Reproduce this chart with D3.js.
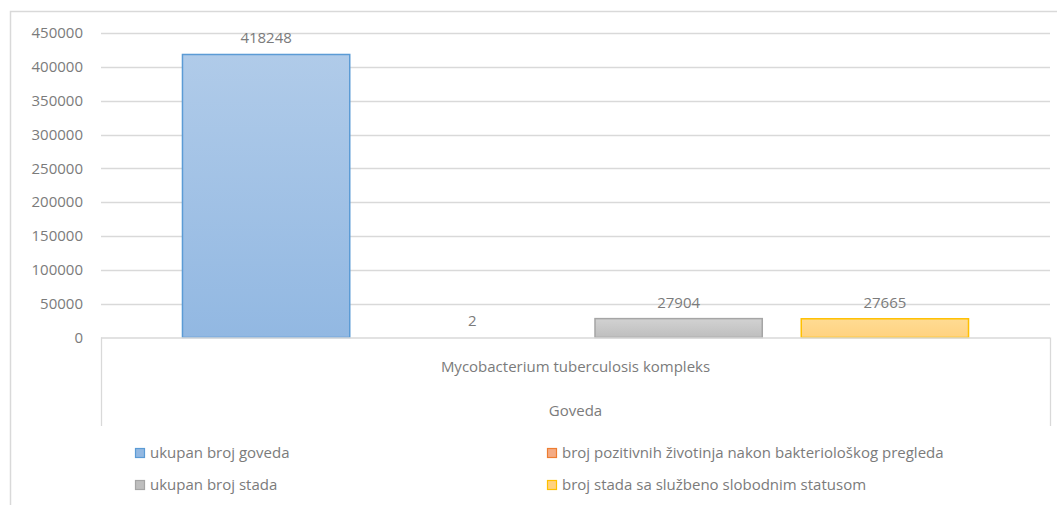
<!DOCTYPE html>
<html lang="hr">
<head>
	<meta charset="UTF-8">
	<title>Goveda - Mycobacterium tuberculosis kompleks</title>
	<script src="https://cdn.jsdelivr.net/npm/d3@7"></script>
	<style>
		body { margin: 0; background: #fff; }
		text { font-family: "Open Sans", sans-serif; fill: #7b7b7b; font-size: 15px; }
	</style>
</head>
<body>
<script>
	var groupLabel = 'Goveda';
	var categories = ['Mycobacterium tuberculosis kompleks'];
	var seriesNames = [
		'ukupan broj goveda',
		'broj pozitivnih životinja nakon bakteriološkog pregleda',
		'ukupan broj stada',
		'broj stada sa službeno slobodnim statusom'
	];
	var seriesValues = [418248, 2, 27904, 27665];
	var yTicks = [0, 50000, 100000, 150000, 200000, 250000, 300000, 350000, 400000, 450000];

	// fill top, fill bottom, stroke for each series
	var colors = [
		['#b0cbe9', '#92b8e2', '#5b9bd5'],
		['#f7bfa0', '#f4ab84', '#ed7d31'],
		['#d2d2d2', '#bebebe', '#a5a5a5'],
		['#ffdb93', '#ffd280', '#ffc000']
	];

	var W = 1057, H = 505;
	var plot = {left: 101, right: 1050, top: 33, bottom: 337.5};

	var svg = d3.select('body').append('svg')
		.attr('width', W)
		.attr('height', H);

	var defs = svg.append('defs');
	colors.forEach(function (c, i) {
		var g = defs.append('linearGradient')
			.attr('id', 'grad' + i)
			.attr('x1', 0).attr('y1', 0).attr('x2', 0).attr('y2', 1);
		g.append('stop').attr('offset', '0%').attr('stop-color', c[0]);
		g.append('stop').attr('offset', '100%').attr('stop-color', c[1]);
	});

	// chart border
	svg.append('path')
		.attr('d', 'M10.5,' + H + 'V11.5H' + W)
		.attr('fill', 'none')
		.attr('stroke', '#d9d9d9')
		.attr('stroke-width', 1.5);

	var y = d3.scaleLinear()
		.domain([0, 450000])
		.range([plot.bottom, plot.top]);

	var x0 = d3.scaleBand()
		.domain(categories)
		.range([plot.left, plot.right]);

	var x1 = d3.scaleBand()
		.domain(seriesNames)
		.range([0, x0.bandwidth()])
		.paddingInner(0.189)
		.paddingOuter(0.395);

	// gridlines
	svg.append('g')
		.selectAll('line')
		.data(yTicks.filter(function (d) { return d > 0; }))
		.enter().append('line')
		.attr('x1', plot.left)
		.attr('x2', plot.right)
		.attr('y1', function (d) { return Math.round(y(d)) + 0.5; })
		.attr('y2', function (d) { return Math.round(y(d)) + 0.5; })
		.attr('stroke', '#d9d9d9')
		.attr('stroke-width', 1.3);

	// y labels
	svg.append('g')
		.selectAll('text')
		.data(yTicks)
		.enter().append('text')
		.attr('x', 83)
		.attr('y', function (d) { return y(d); })
		.attr('dy', '0.35em')
		.attr('text-anchor', 'end')
		.text(function (d) { return d; });

	// bars (a bar thinner than a pixel shows nothing)
	svg.append('g')
		.selectAll('rect')
		.data(seriesValues)
		.enter().append('rect')
		.attr('x', function (d, i) { return x0(categories[0]) + x1(seriesNames[i]); })
		.attr('y', function (d) { return y(d); })
		.attr('width', x1.bandwidth())
		.attr('height', function (d) { return plot.bottom - y(d); })
		.attr('fill', function (d, i) { return 'url(#grad' + i + ')'; })
		.attr('stroke', function (d, i) { return plot.bottom - y(d) < 1 ? 'none' : colors[i][2]; })
		.attr('stroke-width', 1.5);

	// value labels
	svg.append('g')
		.selectAll('text')
		.data(seriesValues)
		.enter().append('text')
		.attr('x', function (d, i) { return x0(categories[0]) + x1(seriesNames[i]) + x1.bandwidth() / 2; })
		.attr('y', function (d) { return y(d) - 11; })
		.attr('text-anchor', 'middle')
		.text(function (d) { return d; });

	// category axis (multi-level)
	svg.append('line')
		.attr('x1', plot.left).attr('x2', plot.right)
		.attr('y1', plot.bottom + 0.5).attr('y2', plot.bottom + 0.5)
		.attr('stroke', '#d9d9d9').attr('stroke-width', 1.5);
	[plot.left, plot.right].forEach(function (xx) {
		svg.append('line')
			.attr('x1', xx + 0.5).attr('x2', xx + 0.5)
			.attr('y1', plot.bottom).attr('y2', 426)
			.attr('stroke', '#d9d9d9').attr('stroke-width', 1.3);
	});

	svg.append('text')
		.attr('x', x0(categories[0]) + x0.bandwidth() / 2)
		.attr('y', 367)
		.attr('dy', '0.35em')
		.attr('text-anchor', 'middle')
		.text(categories[0]);

	svg.append('text')
		.attr('x', (plot.left + plot.right) / 2)
		.attr('y', 411)
		.attr('dy', '0.35em')
		.attr('text-anchor', 'middle')
		.text(groupLabel);

	// legend
	var legend = svg.append('g')
		.selectAll('.info')
		.data(seriesNames)
		.enter().append('g')
		.attr('class', 'info')
		.attr('transform', function (d, i) {
			return 'translate(' + (i % 2 === 0 ? 135 : 547) + ',' + (448 + Math.floor(i / 2) * 32) + ')';
		});
	legend.append('rect')
		.attr('x', 0.5)
		.attr('y', 0.5)
		.attr('width', 9)
		.attr('height', 9)
		.attr('fill', function (d, i) { return colors[i][1]; })
		.attr('stroke', function (d, i) { return colors[i][2]; })
		.attr('stroke-width', 1.2);
	legend.append('text')
		.attr('x', 15)
		.attr('y', 5)
		.attr('dy', '0.35em')
		.text(function (d) { return d; });
</script>
</body>
</html>
